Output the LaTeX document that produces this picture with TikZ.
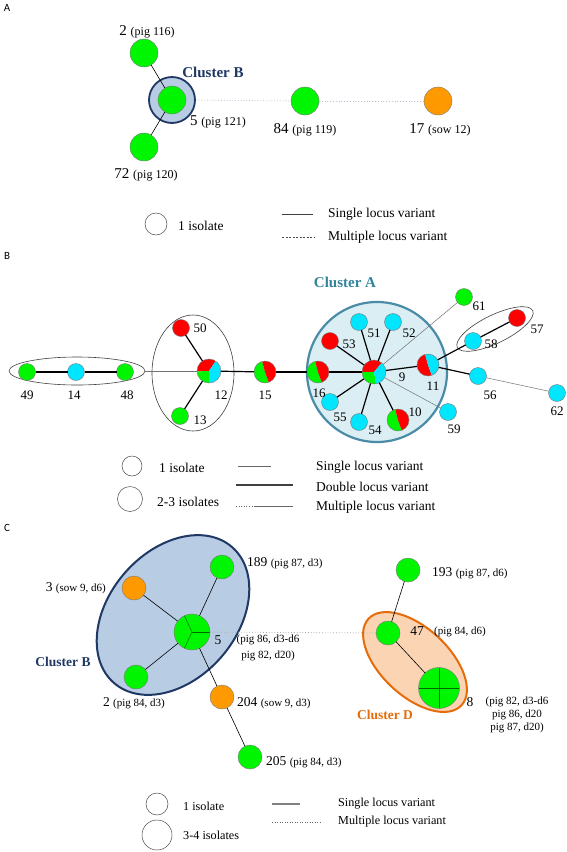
\documentclass[tikz,border=0pt]{standalone}
\usepackage{fontspec}
\setmainfont{Liberation Serif}
\newfontfamily\secfont{Carlito}
\usetikzlibrary{shapes.geometric}
\definecolor{ngreen}{RGB}{0,245,0}
\definecolor{norange}{RGB}{255,153,0}
\definecolor{nred}{RGB}{255,0,0}
\definecolor{ncyan}{RGB}{0,230,255}
\definecolor{bnavy}{RGB}{31,56,100}
\definecolor{bfill}{RGB}{184,204,228}
\definecolor{ateal}{RGB}{49,132,155}
\definecolor{aborder}{RGB}{74,140,168}
\definecolor{afill}{RGB}{218,238,243}
\definecolor{dorange}{RGB}{228,108,10}
\definecolor{dfill}{RGB}{251,212,180}
\definecolor{outl}{RGB}{120,120,120}
\definecolor{mlvA}{RGB}{190,190,215}
\definecolor{mlvC}{RGB}{170,170,170}
\newcommand\sm{\fontsize{12}{14}\selectfont}
\newcommand\smc{\fontsize{11}{13}\selectfont}
\newcommand\mypie[3]{\fill[#1] (path picture bounding box.center) -- ++(#2:30pt) arc[start angle=#2,end angle=#3,radius=30pt] -- cycle;}
\tikzset{
  vtx/.style={circle, draw=outl, line width=0.4pt, inner sep=0pt, outer sep=0pt},
  vG/.style={vtx, fill=ngreen},
  vO/.style={vtx, fill=norange},
  vR/.style={vtx, fill=nred},
  vC/.style={vtx, fill=ncyan},
  szA/.style={minimum size=28pt},
  szB/.style={minimum size=17pt},
  szC/.style={minimum size=24pt},
  lab/.style={inner sep=0pt, font=\fontsize{15}{17}\selectfont},
  labB/.style={inner sep=0pt, font=\fontsize{13}{15}\selectfont},
  labC/.style={inner sep=0pt, font=\fontsize{13.5}{16}\selectfont},
  leg/.style={inner sep=0pt, font=\fontsize{13.5}{16}\selectfont},
  legC/.style={inner sep=0pt, font=\fontsize{12.2}{14}\selectfont},
  secl/.style={inner sep=0pt, font=\secfont\fontsize{11}{13}\selectfont},
  clus/.style={inner sep=0pt, font=\bfseries\fontsize{15}{17}\selectfont},
  clusC/.style={inner sep=0pt, font=\bfseries\fontsize{13.5}{16}\selectfont},
  legcirc/.style={circle, draw=black!70, line width=0.5pt, inner sep=0pt},
  ed/.style={draw=black, line width=0.6pt},
  edk/.style={draw=black, line width=1.2pt},
  edt/.style={draw=black!55, line width=0.5pt},
  mlvline/.style={dotted, line width=0.8pt},
  grp/.style={ellipse, draw=black!75, line width=0.6pt, inner sep=0pt}
}
\begin{document}
\begin{tikzpicture}[x=1pt,y=-1pt]
\fill[white] (0,0) rectangle (567,852);
\useasboundingbox (0,0) rectangle (567,852);

% ---------------- A ----------------
\node[secl] (secA) at (7,8) {A};
\node[circle, fill=bfill, draw=bnavy, line width=1.8pt, minimum size=46pt, inner sep=0pt] (clBA) at (172,100) {};
\node[vG, szA] (a2) at (144,53) {};
\node[vG, szA] (a5) at (172,100) {};
\node[vG, szA] (a72) at (144,147) {};
\node[vG, szA] (a84) at (305,101) {};
\node[vO, szA] (a17) at (438,101) {};
\draw[ed] (a2) -- (a5);
\draw[ed] (a5) -- (a72);
\draw[mlvline, mlvA] (clBA) -- (a84);
\draw[mlvline, mlvA] (a84) -- (a17);
\node[lab] (la2) at (147,32) {2 {\sm(pig 116)}};
\node[clus, text=bnavy] (tBA) at (213,72) {Cluster B};
\node[lab, anchor=west] (la5) at (190,122) {5 {\sm(pig 121)}};
\node[lab] (la72) at (146,175) {72 {\sm(pig 120)}};
\node[lab] (la84) at (305,130) {84 {\sm(pig 119)}};
\node[lab] (la17) at (440,130) {17 {\sm(sow 12)}};
% legend A
\node[legcirc, minimum size=22pt] (lgA1) at (156,224) {};
\node[leg, anchor=west] (lgA1t) at (178,226) {1 isolate};
\coordinate (lgAs1) at (282,214); \coordinate (lgAs2) at (313,214);
\draw[black!75, line width=0.6pt] (lgAs1) -- (lgAs2);
\node[leg, anchor=west] (lgA2t) at (328,214) {Single locus variant};
\coordinate (lgAm1) at (282,237); \coordinate (lgAm2) at (315,237);
\draw[black!70, line width=0.5pt, dash pattern=on 2pt off 1.5pt] (lgAm1) -- (lgAm2);
\node[leg, anchor=west] (lgA3t) at (328,237) {Multiple locus variant};

% ---------------- B ----------------
\node[secl] (secB) at (7,256) {B};
\node[grp, minimum width=136pt, minimum height=28pt] (eB1) at (77,371) {};
\node[grp, minimum width=82pt, minimum height=116pt] (eB2) at (193,373) {};
\node[circle, fill=afill, draw=aborder, line width=2.2pt, minimum size=140pt, inner sep=0pt] (clA) at (377,372) {};
\node[grp, minimum width=84pt, minimum height=28pt, rotate=26] (eB3) at (495,329) {};

\node[vG, szB] (b49) at (27,372) {};
\node[vC, szB] (b14) at (76,372) {};
\node[vG, szB] (b48) at (125,372) {};
\node[vR, szB] (b50) at (181,328) {};
\node[vtx, minimum size=24pt, path picture={\mypie{nred}{56}{182}\mypie{ngreen}{182}{270}\mypie{ncyan}{270}{416}}] (b12) at (209,371) {};
\node[vG, szB] (b13) at (180,416) {};
\node[vtx, minimum size=22pt, path picture={\mypie{ngreen}{105}{290}\mypie{nred}{290}{465}}] (b15) at (265,372) {};
\node[vtx, minimum size=24pt, path picture={\mypie{nred}{50}{180}\mypie{ngreen}{180}{280}\mypie{ncyan}{280}{410}}] (b9) at (374,372) {};
\node[vC, szB] (b51) at (359,322) {};
\node[vC, szB] (b52) at (393,322) {};
\node[vR, szB] (b53) at (330,341) {};
\node[vtx, minimum size=22pt, path picture={\mypie{ngreen}{105}{290}\mypie{nred}{290}{465}}] (b16) at (318,372) {};
\node[vC, szB] (b55) at (330,402) {};
\node[vC, szB] (b54) at (359,422) {};
\node[vtx, minimum size=22pt, path picture={\mypie{ngreen}{105}{290}\mypie{nred}{290}{465}}] (b10) at (398,420) {};
\node[vtx, minimum size=22pt, path picture={\mypie{nred}{105}{290}\mypie{ncyan}{290}{465}}] (b11) at (428,365) {};
\node[vC, szB] (b59) at (448,412) {};
\node[vG, szB] (b61) at (464,297) {};
\node[vC, szB] (b58) at (473,341) {};
\node[vR, szB] (b57) at (517,318) {};
\node[vC, szB] (b56) at (478,376) {};
\node[vC, szB] (b62) at (557,393) {};

\draw[edt] (eB1.east) -- (b12);
\draw[edk] (b49) -- (b14);
\draw[edk] (b14) -- (b48);
\draw[edk] (b12) -- (b50);
\draw[edk] (b12) -- (b13);
\draw[edk] (b12) -- (b15);
\draw[edk] (b15) -- (b16);
\draw[edk] (b9) -- (b16);
\draw[edk] (b9) -- (b51);
\draw[edk] (b9) -- (b52);
\draw[edk] (b9) -- (b53);
\draw[edk] (b9) -- (b55);
\draw[edk] (b9) -- (b54);
\draw[edk] (b9) -- (b10);
\draw[edk] (b9) -- (b11);
\draw[edk] (b11) -- (b58);
\draw[edk] (b58) -- (b57);
\draw[edk] (b11) -- (b56);
\draw[edt] (b9) -- (b61);
\draw[edt] (b9) -- (b59);
\draw[edt] (b56) -- (b62);

\node[clus, text=ateal] (tA) at (345,282) {Cluster A};
\node[labB] (lb49) at (27,395) {49};
\node[labB] (lb14) at (74,395) {14};
\node[labB] (lb48) at (127,395) {48};
\node[labB] (lb50) at (200,328) {50};
\node[labB] (lb12) at (221,395) {12};
\node[labB] (lb13) at (200,420) {13};
\node[labB] (lb15) at (265,395) {15};
\node[labB] (lb53) at (349,344) {53};
\node[labB] (lb51) at (374,333) {51};
\node[labB] (lb52) at (409,333) {52};
\node[labB] (lb16) at (319,393) {16};
\node[labB] (lb9) at (402,377) {9};
\node[labB] (lb11) at (433,386) {11};
\node[labB] (lb55) at (340,417) {55};
\node[labB] (lb54) at (375,430) {54};
\node[labB] (lb10) at (415,412) {10};
\node[labB] (lb59) at (454,429) {59};
\node[labB] (lb61) at (479,306) {61};
\node[labB] (lb58) at (491,344) {58};
\node[labB] (lb57) at (537,329) {57};
\node[labB] (lb56) at (490,395) {56};
\node[labB] (lb62) at (557,411) {62};
% legend B
\node[legcirc, minimum size=20pt] (lgB1) at (132,466) {};
\node[legcirc, minimum size=25pt] (lgB2) at (130,499) {};
\node[leg, anchor=west] (lgB1t) at (159,468) {1 isolate};
\node[leg, anchor=west] (lgB2t) at (157,502) {2-3 isolates};
\coordinate (lgBs1) at (238,466); \coordinate (lgBs2) at (271,466);
\draw[black!60, line width=0.7pt] (lgBs1) -- (lgBs2);
\coordinate (lgBd1) at (236,485); \coordinate (lgBd2) at (293,485);
\draw[black!75, line width=1.1pt] (lgBd1) -- (lgBd2);
\coordinate (lgBm1) at (236,506); \coordinate (lgBm2) at (255,506); \coordinate (lgBm3) at (293,506);
\draw[black!60, line width=0.6pt, dotted] (lgBm1) -- (lgBm2);
\draw[black!60, line width=0.7pt] (lgBm2) -- (lgBm3);
\node[leg, anchor=west] (lgB3t) at (316,467) {Single locus variant};
\node[leg, anchor=west] (lgB4t) at (316,487) {Double locus variant};
\node[leg, anchor=west] (lgB5t) at (316,507) {Multiple locus variant};

% ---------------- C ----------------
\node[secl] (secC) at (7,528) {C};
\node[ellipse, fill=bfill, draw=bnavy, line width=2pt, minimum width=180pt, minimum height=128pt, inner sep=0pt, rotate=49] (clBC) at (173,615) {};
\node[ellipse, fill=dfill, draw=dorange, line width=2pt, minimum width=127pt, minimum height=68pt, inner sep=0pt, rotate=-43] (clD) at (415,662) {};

\node[vO, szC] (c3) at (134,588) {};
\node[vG, szC] (c189) at (222,567) {};
\node[vG, minimum size=36pt, path picture={
  \draw[black!60!green, line width=0.5pt] (path picture bounding box.center) -- ++(115:20pt);
  \draw[black!60!green, line width=0.5pt] (path picture bounding box.center) -- ++(0:20pt);
  \draw[black!60!green, line width=0.5pt] (path picture bounding box.center) -- ++(245:20pt);}] (c5) at (192,632) {};
\node[vG, szC] (c2) at (136,677) {};
\node[vO, szC] (c204) at (222,697) {};
\node[vG, szC] (c205) at (250,757) {};
\node[vG, szC] (c193) at (408,570) {};
\node[vG, szC] (c47) at (388,633) {};
\node[vG, minimum size=41pt, path picture={
  \draw[black!60!green, line width=0.6pt] (path picture bounding box.north) -- (path picture bounding box.south);
  \draw[black!60!green, line width=0.6pt] (path picture bounding box.west) -- (path picture bounding box.east);}] (c8) at (439,688) {};

\draw[ed] (c5) -- (c3);
\draw[ed] (c5) -- (c189);
\draw[ed] (c5) -- (c2);
\draw[ed] (c5) -- (c204);
\draw[ed] (c204) -- (c205);
\draw[ed] (c193) -- (c47);
\draw[ed] (c47) -- (c8);
\draw[mlvline, mlvC] (c5) -- (c47);

\node[labC, anchor=west] (lc189) at (247,563) {189 {\smc(pig 87, d3)}};
\node[labC, anchor=east] (lc3) at (106,588) {3 {\smc(sow 9, d6)}};
\node[labC] (lc5) at (218,640) {5};
\node[inner sep=0pt, align=center, font=\fontsize{11}{16}\selectfont] (lc5b) at (268,648) {(pig 86, d3-d6\\pig 82, d20)};
\node[clusC, text=bnavy] (tBC) at (63,662) {Cluster B};
\node[labC] (lc2) at (134,703) {2 {\smc(pig 84, d3)}};
\node[labC, anchor=west] (lc204) at (237,703) {204 {\smc(sow 9, d3)}};
\node[labC, anchor=west] (lc205) at (266,762) {205 {\smc(pig 84, d3)}};
\node[labC, anchor=west] (lc193) at (432,573) {193 {\smc(pig 87, d6)}};
\node[labC] (lc47) at (417,631) {47};
\node[inner sep=0pt, anchor=west, font=\smc] (lc47b) at (434,632) {(pig 84, d6)};
\node[labC] (lc8) at (470,702) {8};
\node[inner sep=0pt, align=center, font=\fontsize{11}{13}\selectfont] (lc8b) at (517,715) {(pig 82, d3-d6\\pig 86, d20\\pig 87, d20)};
\node[clusC, text=dorange] (tD) at (385,715) {Cluster D};
% legend C
\node[legcirc, minimum size=22pt] (lgC1) at (157,804) {};
\node[legcirc, minimum size=30pt] (lgC2) at (157,835) {};
\node[legC, anchor=west] (lgC1t) at (183,806) {1 isolate};
\node[legC, anchor=west] (lgC2t) at (183,835) {3-4 isolates};
\coordinate (lgCs1) at (272,804); \coordinate (lgCs2) at (300,804);
\draw[black!50, line width=1.3pt] (lgCs1) -- (lgCs2);
\coordinate (lgCm1) at (272,822); \coordinate (lgCm2) at (320,822);
\draw[black!60, line width=0.5pt, dotted] (lgCm1) -- (lgCm2);
\node[legC, anchor=west] (lgC3t) at (338,804) {Single locus variant};
\node[legC, anchor=west] (lgC4t) at (338,822) {Multiple locus variant};
\end{tikzpicture}
\end{document}
